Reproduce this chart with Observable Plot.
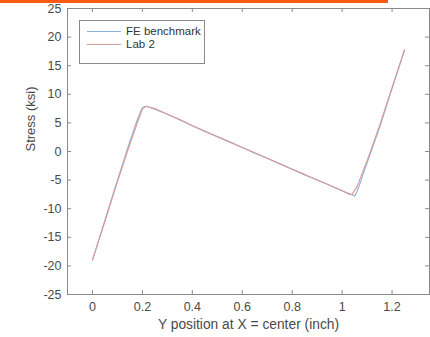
<!DOCTYPE html>
<html>
<head>
<meta charset="utf-8">
<script src="https://cdn.jsdelivr.net/npm/d3@7"></script>
<script src="https://cdn.jsdelivr.net/npm/@observablehq/plot@0.6"></script>
<style>
  html, body { margin: 0; padding: 0; background: #fff; }
  #wrap { position: relative; width: 430px; height: 337px; overflow: hidden; font-family: "Liberation Sans", Arial, sans-serif; }
  #bar { position: absolute; left: 0; top: 0; width: 388px; height: 3px; background: #ff5a14; }
  #legend { position: absolute; left: 79px; top: 20px; width: 124px; height: 42px; border: 1px solid #8a8a8a; background: #fff; font-size: 11.5px; color: #333; }
  .item { position: absolute; left: 0; height: 13px; }
  .sw { position: absolute; left: 7px; top: 6px; width: 34px; height: 1px; }
  .lab { position: absolute; left: 46px; top: 0px; white-space: nowrap; line-height: 13px; }
</style>
</head>
<body>
<div id="wrap">
  <div id="chart"></div>
  <div id="bar"></div>
  <div id="legend"></div>
</div>
<script>
const seriesNames = ["FE benchmark", "Lab 2"];
const seriesColors = ["#8fb0d8", "#d99a9a"];

const feX = [0, 0.05, 0.1, 0.15, 0.18, 0.2, 0.215, 0.25, 0.3, 0.35, 0.4, 0.45, 0.5, 0.55, 0.6, 0.65, 0.7, 0.75, 0.8, 0.85, 0.9, 0.95, 1.0, 1.03, 1.05, 1.06, 1.1, 1.15, 1.2, 1.25];
const feY = [-19, -12, -5, 1.8, 5.6, 7.7, 7.9, 7.4, 6.5, 5.5, 4.5, 3.5, 2.6, 1.6, 0.7, -0.3, -1.2, -2.2, -3.1, -4.1, -5.0, -5.9, -6.9, -7.4, -7.8, -7.0, -2.0, 4.2, 11.0, 17.7];

const labX = [0, 0.05, 0.1, 0.15, 0.18, 0.2, 0.215, 0.25, 0.3, 0.35, 0.4, 0.45, 0.5, 0.55, 0.6, 0.65, 0.7, 0.75, 0.8, 0.85, 0.9, 0.95, 1.0, 1.03, 1.04, 1.06, 1.1, 1.15, 1.2, 1.25];
const labY = [-19, -12.2, -5.3, 1.3, 5.0, 7.4, 7.9, 7.5, 6.5, 5.6, 4.5, 3.6, 2.6, 1.7, 0.7, -0.2, -1.2, -2.1, -3.1, -4.0, -5.0, -5.9, -6.8, -7.5, -7.5, -6.1, -1.6, 4.5, 11.2, 17.8];

const xTicks = [0, 0.2, 0.4, 0.6, 0.8, 1, 1.2];
const yTicks = [-25, -20, -15, -10, -5, 0, 5, 10, 15, 20, 25];
const xLabel = "Y position at X = center (inch)";
const yLabel = "Stress (ksi)";

const fe = feX.map((x, i) => ({x, y: feY[i]}));
const lab = labX.map((x, i) => ({x, y: labY[i]}));

const W = 430, H = 337, mL = 67, mR = 1, mT = 8, mB = 43;
const pw = W - mL - mR, ph = H - mT - mB;
const axisColor = "#8a8a8a";
const textColor = "#4a4a4a";

const chart = Plot.plot({
  width: W, height: H,
  marginLeft: mL, marginRight: mR, marginTop: mT, marginBottom: mB,
  style: { fontFamily: "Liberation Sans, Arial, sans-serif", fontSize: "12px", color: textColor, background: "#fff" },
  x: { domain: [-0.1, 1.35] },
  y: { domain: [-25, 25] },
  marks: [
    Plot.frame({ stroke: axisColor }),
    // inward ticks on all sides
    Plot.tickX(xTicks, { x: d => d, stroke: axisColor, insetTop: ph - 4 }),
    Plot.tickX(xTicks, { x: d => d, stroke: axisColor, insetBottom: ph - 4 }),
    Plot.tickY(yTicks, { y: d => d, stroke: axisColor, insetRight: pw - 4 }),
    Plot.tickY(yTicks, { y: d => d, stroke: axisColor, insetLeft: pw - 4 }),
    Plot.axisX(xTicks, { tickSize: 0, tickPadding: 8, label: null, fill: textColor, fontSize: 12.5, tickFormat: d => String(d) }),
    Plot.axisY(yTicks, { tickSize: 0, tickPadding: 6, label: null, fill: textColor, fontSize: 12.5, tickFormat: d => String(d) }),
    Plot.line(fe, { x: "x", y: "y", stroke: seriesColors[0], strokeWidth: 1.1 }),
    Plot.line(lab, { x: "x", y: "y", stroke: seriesColors[1], strokeWidth: 1.1 }),
    Plot.text([xLabel], { frameAnchor: "bottom", dy: 34, fill: textColor, fontSize: 13.8 }),
    Plot.text([yLabel], { frameAnchor: "left", rotate: -90, dx: -37, fill: textColor, fontSize: 13 })
  ]
});
document.getElementById("chart").appendChild(chart);

const legend = document.getElementById("legend");
seriesNames.forEach((name, i) => {
  const item = document.createElement("div");
  item.className = "item";
  item.style.top = (4 + i * 13) + "px";
  item.style.width = "120px";
  item.innerHTML = `<div class="sw" style="background:${seriesColors[i]}"></div><div class="lab">${name}</div>`;
  legend.appendChild(item);
});
</script>
</body>
</html>
